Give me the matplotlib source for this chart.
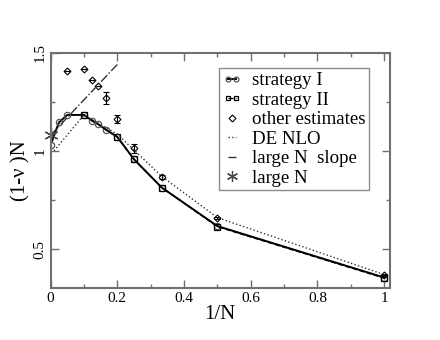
import numpy as np
import matplotlib
matplotlib.use("Agg")
import matplotlib.pyplot as plt
from matplotlib.ticker import MultipleLocator, FuncFormatter
from matplotlib.legend_handler import HandlerLine2D

plt.rcParams['font.family'] = ['Liberation Serif', 'DejaVu Serif']

# data
x_s1 = [0, 0.025, 0.05, 0.1, 0.125, 1/7, 1/6, 0.2, 0.25, 1/3, 0.5, 1]
y_s1 = [1.03, 1.145, 1.183, 1.183, 1.153, 1.136, 1.107, 1.071, 0.957, 0.813, 0.617, 0.355]

x_s2 = [0.1, 0.2, 0.25, 1/3, 0.5, 1]
y_s2 = [1.183, 1.071, 0.957, 0.813, 0.614, 0.352]

x_oe = [0.05, 0.1, 0.125, 1/7, 1/6, 0.2, 0.25, 1/3, 0.5, 1]
y_oe = [1.405, 1.416, 1.362, 1.328, 1.268, 1.163, 1.013, 0.867, 0.657, 0.369]
err_oe = [0, 0, 0, 0, 0.03, 0.021, 0.023, 0.012, 0.005, 0.005]

x_de = [0.01, 0.1, 0.2, 1/3, 0.5, 1]
y_de = [1.0, 1.183, 1.085, 0.87, 0.66, 0.37]

x_slope = [0, 0.2]
y_slope = [1.08, 1.44]

x_largeN = [0]
y_largeN = [1.08]

fig = plt.figure(figsize=(4.4, 3.4), dpi=100)
ax = fig.add_axes([0.115, 0.152, 0.771, 0.693])

frame = '#707070'

h1, = ax.plot(x_s1, y_s1, '-', color='black', lw=1.4, marker='o', ms=4.5,
              mfc='none', mec='#555555', mew=0.9, label='strategy I')
h2, = ax.plot(x_s2, y_s2, '--', color='black', lw=1.0, marker='s', ms=4.5,
              mfc='none', mec='black', mew=0.9, label='strategy II')
ax.errorbar(x_oe, y_oe, yerr=err_oe, fmt='none', ecolor='black',
            elinewidth=0.8, capsize=2.5, capthick=0.8)
h3, = ax.plot(x_oe, y_oe, ls='none', marker='D', ms=3.5, mfc='none',
              mec='black', mew=0.8, label='other estimates')
h4, = ax.plot(x_de, y_de, ':', color='#333333', lw=1.0, label='DE NLO')
h5, = ax.plot(x_slope, y_slope, '-.', color='#333333', lw=1.0, label='large N  slope')
h6, = ax.plot(x_largeN, y_largeN, ls='none', marker=(6, 2, 0), ms=10, mec='#444444',
              mew=0.9, label='large N', clip_on=False)

ax.set_xlim(0, 1.017)
ax.set_ylim(0.3, 1.5)
ax.xaxis.set_major_locator(MultipleLocator(0.2))
ax.xaxis.set_minor_locator(MultipleLocator(0.1))
ax.yaxis.set_major_locator(MultipleLocator(0.5))
ax.yaxis.set_minor_locator(MultipleLocator(0.25))
fmt = FuncFormatter(lambda v, p: '%g' % round(v, 3))
ax.xaxis.set_major_formatter(fmt)
ax.yaxis.set_major_formatter(fmt)

ax.tick_params(which='both', direction='in', top=True, right=True,
               color=frame, labelsize=11, pad=3)
ax.tick_params(which='major', length=6, width=1)
ax.tick_params(which='minor', length=3, width=1)
for lab in ax.get_yticklabels():
    lab.set_rotation(90)
    lab.set_va('center')
for s in ax.spines.values():
    s.set_color(frame)
    s.set_linewidth(1.5)

ax.set_xlabel('1/N', fontsize=15, labelpad=0)
ax.set_ylabel('(1-ν )N', fontsize=15, labelpad=2)

two = HandlerLine2D(numpoints=2)
one = HandlerLine2D(numpoints=1)
leg = ax.legend(handles=[h1, h2, h3, h4, h5, h6],
                handler_map={h1: two, h2: two, h3: one, h4: two, h5: two, h6: one},
                loc='upper left', bbox_to_anchor=(0.496, 0.934), fontsize=13.6,
                frameon=True, fancybox=False, edgecolor=frame, borderpad=0.2,
                labelspacing=0.12, handlelength=1.0, handletextpad=0.55,
                borderaxespad=0)
leg.get_frame().set_linewidth(1.0)
for lh in leg.legend_handles:
    lh.set_markersize(3.5)
leg.legend_handles[5].set_markersize(8)

fig.savefig('out.png', dpi=100)
